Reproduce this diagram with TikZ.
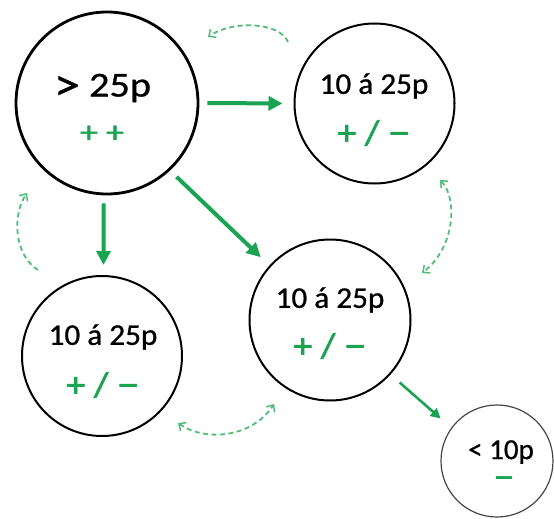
\documentclass[tikz,border=0pt]{standalone}
\usepackage{fontspec}
\setmainfont{Carlito}
\newfontfamily\txtfont[FakeBold=0.8]{Carlito}
\newfontfamily\sgnfont[FakeBold=1.6]{Carlito}
\usetikzlibrary{arrows.meta}
\definecolor{gmain}{RGB}{26,163,80}
\definecolor{glight}{RGB}{80,190,120}
\definecolor{cgray}{RGB}{70,70,70}
\tikzset{
  circ/.style={circle, draw=black, line width=2pt, inner sep=0pt},
  lbl/.style={inner sep=0pt, text=black, anchor=center},
  sgn/.style={inner sep=0pt, text=gmain, anchor=center},
  solidarrow/.style={draw=gmain, line width=4pt, -{Triangle[length=14pt,width=14pt]}},
  thinarrow/.style={draw=gmain, line width=2.6pt, -{Triangle[length=10pt,width=10pt]}},
  dasharrow/.style={draw=glight, line width=1.8pt, dash pattern=on 5pt off 3.5pt,
     -{Straight Barb[length=5.5pt,width=10pt,line width=1.5pt]}},
  dasharrows/.style={dasharrow, {Straight Barb[length=5.5pt,width=10pt,line width=1.5pt]}-{Straight Barb[length=5.5pt,width=10pt,line width=1.5pt]}},
}
\begin{document}
\begin{tikzpicture}[x=1pt,y=-1pt]
\useasboundingbox (0,0) rectangle (554,519);
% circles
\node[circ, line width=2.8pt, minimum size=182pt] (c1) at (107,103) {};
\node[circ, minimum size=160pt] (c2) at (374.5,103.5) {};
\node[circ, minimum size=160pt] (c3) at (102,356) {};
\node[circ, minimum size=161pt] (c4) at (330,320) {};
\node[circ, draw=cgray, line width=1.2pt, minimum size=112pt] (c5) at (497,461) {};
% texts
\node[lbl, font=\txtfont\fontsize{35}{35}\selectfont] (t1) at (102.5,88) {\scalebox{1.15}[1]{\raisebox{-3.5pt}{\scalebox{1.3}{>}} 25p}};
\node[sgn, font=\sgnfont\fontsize{30}{30}\selectfont] (s1) at (102,134) {\scalebox{1.2}[1]{+ +}};
\node[lbl, font=\txtfont\fontsize{30}{30}\selectfont] (t2) at (374,86) {\scalebox{1.04}[1]{10 á 25p}};
\node[sgn, font=\sgnfont\fontsize{35}{35}\selectfont] (s2) at (374,133) {\scalebox{1.08}[1]{+ / \scalebox{1.2}[1]{−}}};
\node[lbl, font=\txtfont\fontsize{30}{30}\selectfont] (t3) at (103,337) {\scalebox{1.04}[1]{10 á 25p}};
\node[sgn, font=\sgnfont\fontsize{35}{35}\selectfont] (s3) at (103,385) {\scalebox{1.08}[1]{+ / \scalebox{1.2}[1]{−}}};
\node[lbl, font=\txtfont\fontsize{30}{30}\selectfont] (t4) at (330,300) {\scalebox{1.04}[1]{10 á 25p}};
\node[sgn, font=\sgnfont\fontsize{35}{35}\selectfont] (s4) at (330,346) {\scalebox{1.08}[1]{+ / \scalebox{1.2}[1]{−}}};
\node[lbl, font=\txtfont\fontsize{29}{29}\selectfont] (t5) at (501,452) {< 10p};
\node[sgn, font=\sgnfont\fontsize{32}{32}\selectfont] (s5) at (504,482) {\scalebox{1.3}[1]{−}};
% solid arrows
\draw[solidarrow, shorten <=8pt, shorten >=11pt] (c1.east) -- (c2.west);
\draw[solidarrow, shorten <=8pt, shorten >=10pt] (c1.-92) -- (c3.89);
\draw[solidarrow, shorten <=9pt, shorten >=12pt] (c1.-47) -- (c4.138);
\draw[thinarrow, shorten <=12pt, shorten >=14pt] (c4.-42) -- (c5.144);
% dashed arrows
\coordinate (a1) at (288,42);  \coordinate (a2) at (208,37);
\coordinate (b1) at (38,270);  \coordinate (b2) at (27,193);
\coordinate (r1) at (440,180); \coordinate (r2) at (422,273);
\coordinate (d1) at (178,423); \coordinate (d2) at (274,404);
\draw[dasharrow] (a1) .. controls (280,22) and (232,20) .. (a2);
\draw[dasharrow] (b1) .. controls (14,255) and (12,215) .. (b2);
\draw[dasharrows] (r1) .. controls (458,198) and (455,248) .. (r2);
\draw[dasharrows] (d1) .. controls (205,442) and (252,438) .. (d2);
\end{tikzpicture}
\end{document}
